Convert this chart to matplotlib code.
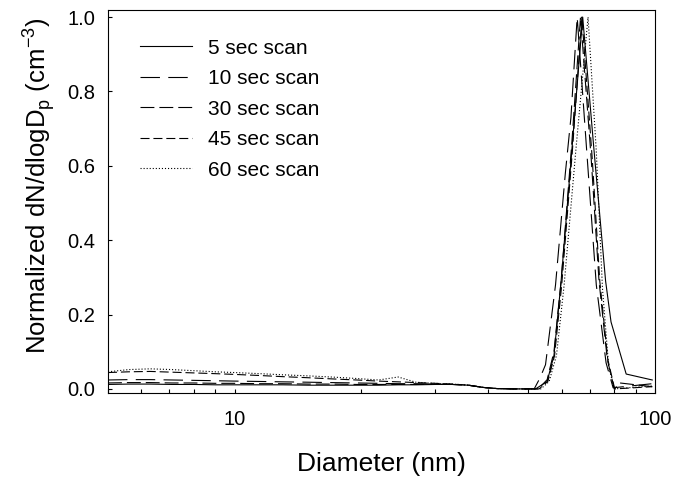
import numpy as np
import matplotlib
matplotlib.use('Agg')
import matplotlib.pyplot as plt
from matplotlib.ticker import FixedLocator, NullFormatter, FixedFormatter

plt.rcParams['font.family'] = ['Liberation Sans', 'DejaVu Sans']
plt.rcParams['lines.scale_dashes'] = False

####################################################################################################
# Size distributions, normalized to the mode

# small-size tail shared grid (nm)
d_low = [5.0, 5.6, 6.3, 7.1, 8.0, 9.0, 10.0, 11.5, 13.0, 15.0, 17.0, 19.5,
         22.0, 24.5, 27.0, 30.0, 33.0, 36.0, 39.0, 42.0, 46.0, 50.0]

scan_5_low = [0.012, 0.013, 0.013, 0.012, 0.012, 0.011, 0.011, 0.011, 0.011, 0.010, 0.010,
              0.010, 0.010, 0.011, 0.011, 0.012, 0.012, 0.010, 0.004, 0.001, 0.0, 0.0]
scan_10_low = [0.024, 0.025, 0.025, 0.024, 0.023, 0.022, 0.021, 0.020, 0.019, 0.018, 0.017,
               0.016, 0.015, 0.014, 0.014, 0.013, 0.012, 0.010, 0.004, 0.001, 0.0, 0.0]
scan_30_low = [0.016, 0.017, 0.017, 0.016, 0.016, 0.015, 0.015, 0.014, 0.014, 0.013, 0.013,
               0.012, 0.012, 0.012, 0.012, 0.012, 0.012, 0.010, 0.004, 0.001, 0.0, 0.0]
scan_45_low = [0.044, 0.046, 0.047, 0.045, 0.043, 0.041, 0.039, 0.036, 0.033, 0.030, 0.027,
               0.024, 0.021, 0.019, 0.017, 0.015, 0.013, 0.010, 0.004, 0.001, 0.0, 0.0]
scan_60_low = [0.046, 0.052, 0.054, 0.052, 0.049, 0.046, 0.044, 0.041, 0.038, 0.035, 0.032,
               0.028, 0.024, 0.032, 0.018, 0.015, 0.013, 0.010, 0.004, 0.001, 0.0, 0.0]

# mode region, each scan has its own channels
scan_5_d = [52.0, 55.4, 57.5, 59.8, 63.5, 67.3, 71.5, 76.3, 78.6, 85.4, 98.5]
scan_5_n = [0.0, 0.02, 0.09, 0.29, 0.65, 1.0, 0.65, 0.29, 0.18, 0.04, 0.024]

scan_10_d = [51.6, 53.3, 54.9, 58.0, 61.2, 63.1, 65.3, 68.6, 72.5, 76.5, 79.5, 98.5]
scan_10_n = [0.0, 0.03, 0.065, 0.28, 0.58, 0.73, 1.0, 0.66, 0.28, 0.07, 0.003, 0.014]

scan_30_d = [52.8, 55.4, 57.5, 59.8, 63.4, 66.5, 70.5, 73.6, 77.0, 80.0, 82.5, 98.5]
scan_30_n = [0.0, 0.025, 0.10, 0.29, 0.66, 1.0, 0.62, 0.29, 0.08, 0.0, 0.016, 0.006]

scan_45_d = [53.0, 55.6, 57.7, 60.0, 63.6, 67.0, 70.9, 73.9, 77.2, 80.2, 98.5]
scan_45_n = [0.0, 0.02, 0.09, 0.28, 0.64, 1.0, 0.62, 0.29, 0.08, 0.0, 0.006]

scan_60_d = [53.5, 56.0, 58.3, 60.8, 64.8, 69.3, 72.5, 75.0, 77.6, 80.0, 98.5]
scan_60_n = [0.0, 0.02, 0.09, 0.28, 0.64, 1.0, 0.64, 0.27, 0.06, 0.0, 0.008]

labels = ['5 sec scan', '10 sec scan', '30 sec scan', '45 sec scan', '60 sec scan']

####################################################################################################

figure = plt.figure(figsize=(6.75, 4.78), dpi=100)
axe = figure.add_axes([108/675, 1 - 393/478, (655 - 108)/675, (393 - 10)/478])

series = [
    (scan_5_low, scan_5_d, scan_5_n, (None, None)),
    (scan_10_low, scan_10_d, scan_10_n, (14, 6)),
    (scan_30_low, scan_30_d, scan_30_n, (10, 3.6)),
    (scan_45_low, scan_45_d, scan_45_n, (6.5, 2.8)),
    (scan_60_low, scan_60_d, scan_60_n, (0.8, 1.4)),
]

for (low, d_peak, n_peak, dashes), label in zip(series, labels):
    d = np.concatenate([d_low[:-1], d_peak])
    n = np.concatenate([low[:-1], n_peak])
    line, = axe.plot(d, n, color='black', lw=0.8, label=label)
    if dashes[0] is not None:
        line.set_dashes(dashes)

axe.set_xscale('log')
axe.set_xlim(5, 100)
axe.set_ylim(-0.011, 1.019)

axe.xaxis.set_major_locator(FixedLocator([10, 100]))
axe.xaxis.set_major_formatter(FixedFormatter(['10', '100']))
axe.xaxis.set_minor_locator(FixedLocator([5, 6, 7, 8, 9, 20, 30, 40, 50, 60, 70, 80, 90]))
axe.xaxis.set_minor_formatter(NullFormatter())
axe.set_yticks([0.0, 0.2, 0.4, 0.6, 0.8, 1.0])
axe.set_yticklabels(['0.0', '0.2', '0.4', '0.6', '0.8', '1.0'])

axe.tick_params(which='both', direction='in', length=3, width=0.8, top=False, right=False,
                labelsize=14.5, colors='black')
axe.tick_params(axis='x', which='both', pad=12)
axe.tick_params(axis='y', which='both', pad=9)
for spine in axe.spines.values():
    spine.set_linewidth(0.8)

axe.set_xlabel('Diameter (nm)', fontsize=19, labelpad=17)
axe.set_ylabel(r'Normalized dN/dlogD$_\mathregular{p}$ (cm$^\mathregular{-3}$)', fontsize=18.5)
axe.yaxis.set_label_coords(-0.094, 0.54)

axe.legend(loc='upper left', bbox_to_anchor=(0.0585, 0.925), frameon=False, fontsize=15,
           handlelength=2.5, handletextpad=0.76, labelspacing=0.55, borderpad=0, borderaxespad=0)

figure.savefig('out.png', dpi=100)
